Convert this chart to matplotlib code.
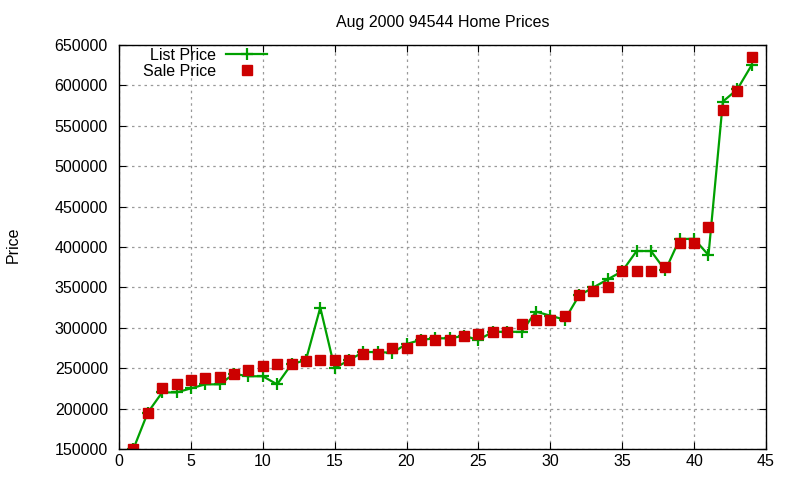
import numpy as np
import matplotlib.pyplot as plt

# house index, list price and sale price
house = np.arange(1, 45)
list_price = [150000, 195000, 220000, 220000, 225000, 230000, 230000, 243000, 240000, 240000,
              230000, 255000, 260000, 325000, 250000, 260000, 270000, 270000, 269000, 280000,
              285000, 287000, 287000, 290000, 285000, 295000, 295000, 295000, 320000, 315000,
              310000, 340000, 350000, 360000, 370000, 395000, 395000, 371000, 410000, 410000,
              390000, 580000, 595000, 625000]
sale_price = [150000, 195000, 225000, 230000, 235000, 238000, 239000, 243000, 248000, 253000,
              255000, 255000, 259000, 260000, 260000, 260000, 267000, 268000, 275000, 275000,
              285000, 285000, 285000, 290000, 292000, 295000, 295000, 305000, 310000, 310000,
              315000, 340000, 345000, 350000, 370000, 370000, 370000, 375000, 405000, 405000,
              425000, 570000, 593000, 635000]

plt.rcParams["font.family"] = ["Liberation Sans", "DejaVu Sans"]

fig = plt.figure(figsize=(8, 4.8), dpi=100)
ax = fig.add_axes([0.14875, 0.0646, 0.80875, 0.8417])

ax.plot(house, list_price, color="#00a000", lw=1.6, marker="+", ms=9, mew=1.6,
        label="List Price")
ax.plot(house, sale_price, ls="none", marker="s", ms=6.5, color="#cc0000",
        label="Sale Price")

ax.set_xlim(0, 45)
ax.set_ylim(150000, 650000)
ax.set_xticks(np.arange(0, 46, 5))
ax.set_yticks(np.arange(150000, 650001, 50000))
ax.tick_params(direction="in", top=True, right=True, labelsize=11.5, length=5)
ax.tick_params(axis="y", pad=8)
ax.grid(True, color="#999999", ls=(0, (2, 3)), lw=0.9)
for s in ax.spines.values():
    s.set_linewidth(1.0)

ax.set_title("Aug 2000 94544 Home Prices", fontsize=11.5, pad=13)
fig.text(0.016, 0.49, "Price", rotation=90, fontsize=11.5, va="center", ha="center")

ax.legend(loc="upper left", bbox_to_anchor=(0.02, 1.02), frameon=False, markerfirst=False,
          fontsize=11.5, handlelength=2.6, handletextpad=0.6, labelspacing=0.05,
          borderaxespad=0.3)

fig.savefig("out.png", dpi=100)
